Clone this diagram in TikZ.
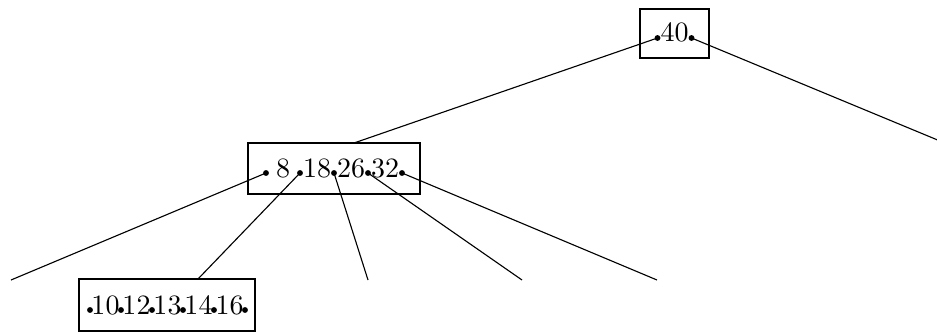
\documentclass[tikz,border=0pt]{standalone}
\usepackage{tikz}
\usetikzlibrary{positioning,fit}

\begin{document}
\begin{tikzpicture}[x=0.357pt, y=-0.357pt,
    keybox/.style={draw, line width=0.8pt, inner sep=0pt},
    ptr/.style={circle, fill, inner sep=0pt, minimum size=2.1pt},
    key/.style={anchor=base, inner sep=0pt}]
\useasboundingbox (0,0) rectangle (937,334);
% root node
\node[keybox, fit={(640,9) (709,58)}] (root) {};
\node[key] (k40) at (674.5,42) {40};
\foreach \i/\x in {0/657.5,1/691.5}
    \node[ptr] (r\i) at (\x,38) {};
% inner node
\node[keybox, fit={(248,143) (420,194)}] (mid) {};
\foreach \i/\x in {0/266,1/300,2/334,3/368,4/402}
    \node[ptr] (m\i) at (\x,173) {};
\foreach \k/\x in {8/283,18/317,26/351,32/385}
    \node[key] (k\k) at (\x,177) {\k};
% leaf
\node[keybox, fit={(79,279) (255,331)}] (leaf) {};
\foreach \i/\x in {0/90,1/121,2/152,3/183,4/214,5/245}
    \node[ptr] (l\i) at (\x,310) {};
\foreach \k/\x in {10/105.5,12/136.5,13/167.5,14/198.5,16/229.5}
    \node[key] (k\k) at (\x,314) {\k};
% child pointers
\coordinate (mid-in) at (354,143);
\coordinate (right-in) at (940,141);
\coordinate (leaf-in) at (198,279);
\foreach \i/\x in {0/11,2/368,3/522,4/657}
    \coordinate (c\i) at (\x,280);
\draw (r0.center) -- (mid-in);
\draw (r1.center) -- (right-in);
\draw (m1.center) -- (leaf-in);
\foreach \i in {0,2,3,4}
    \draw (m\i.center) -- (c\i);
\end{tikzpicture}
\end{document}
